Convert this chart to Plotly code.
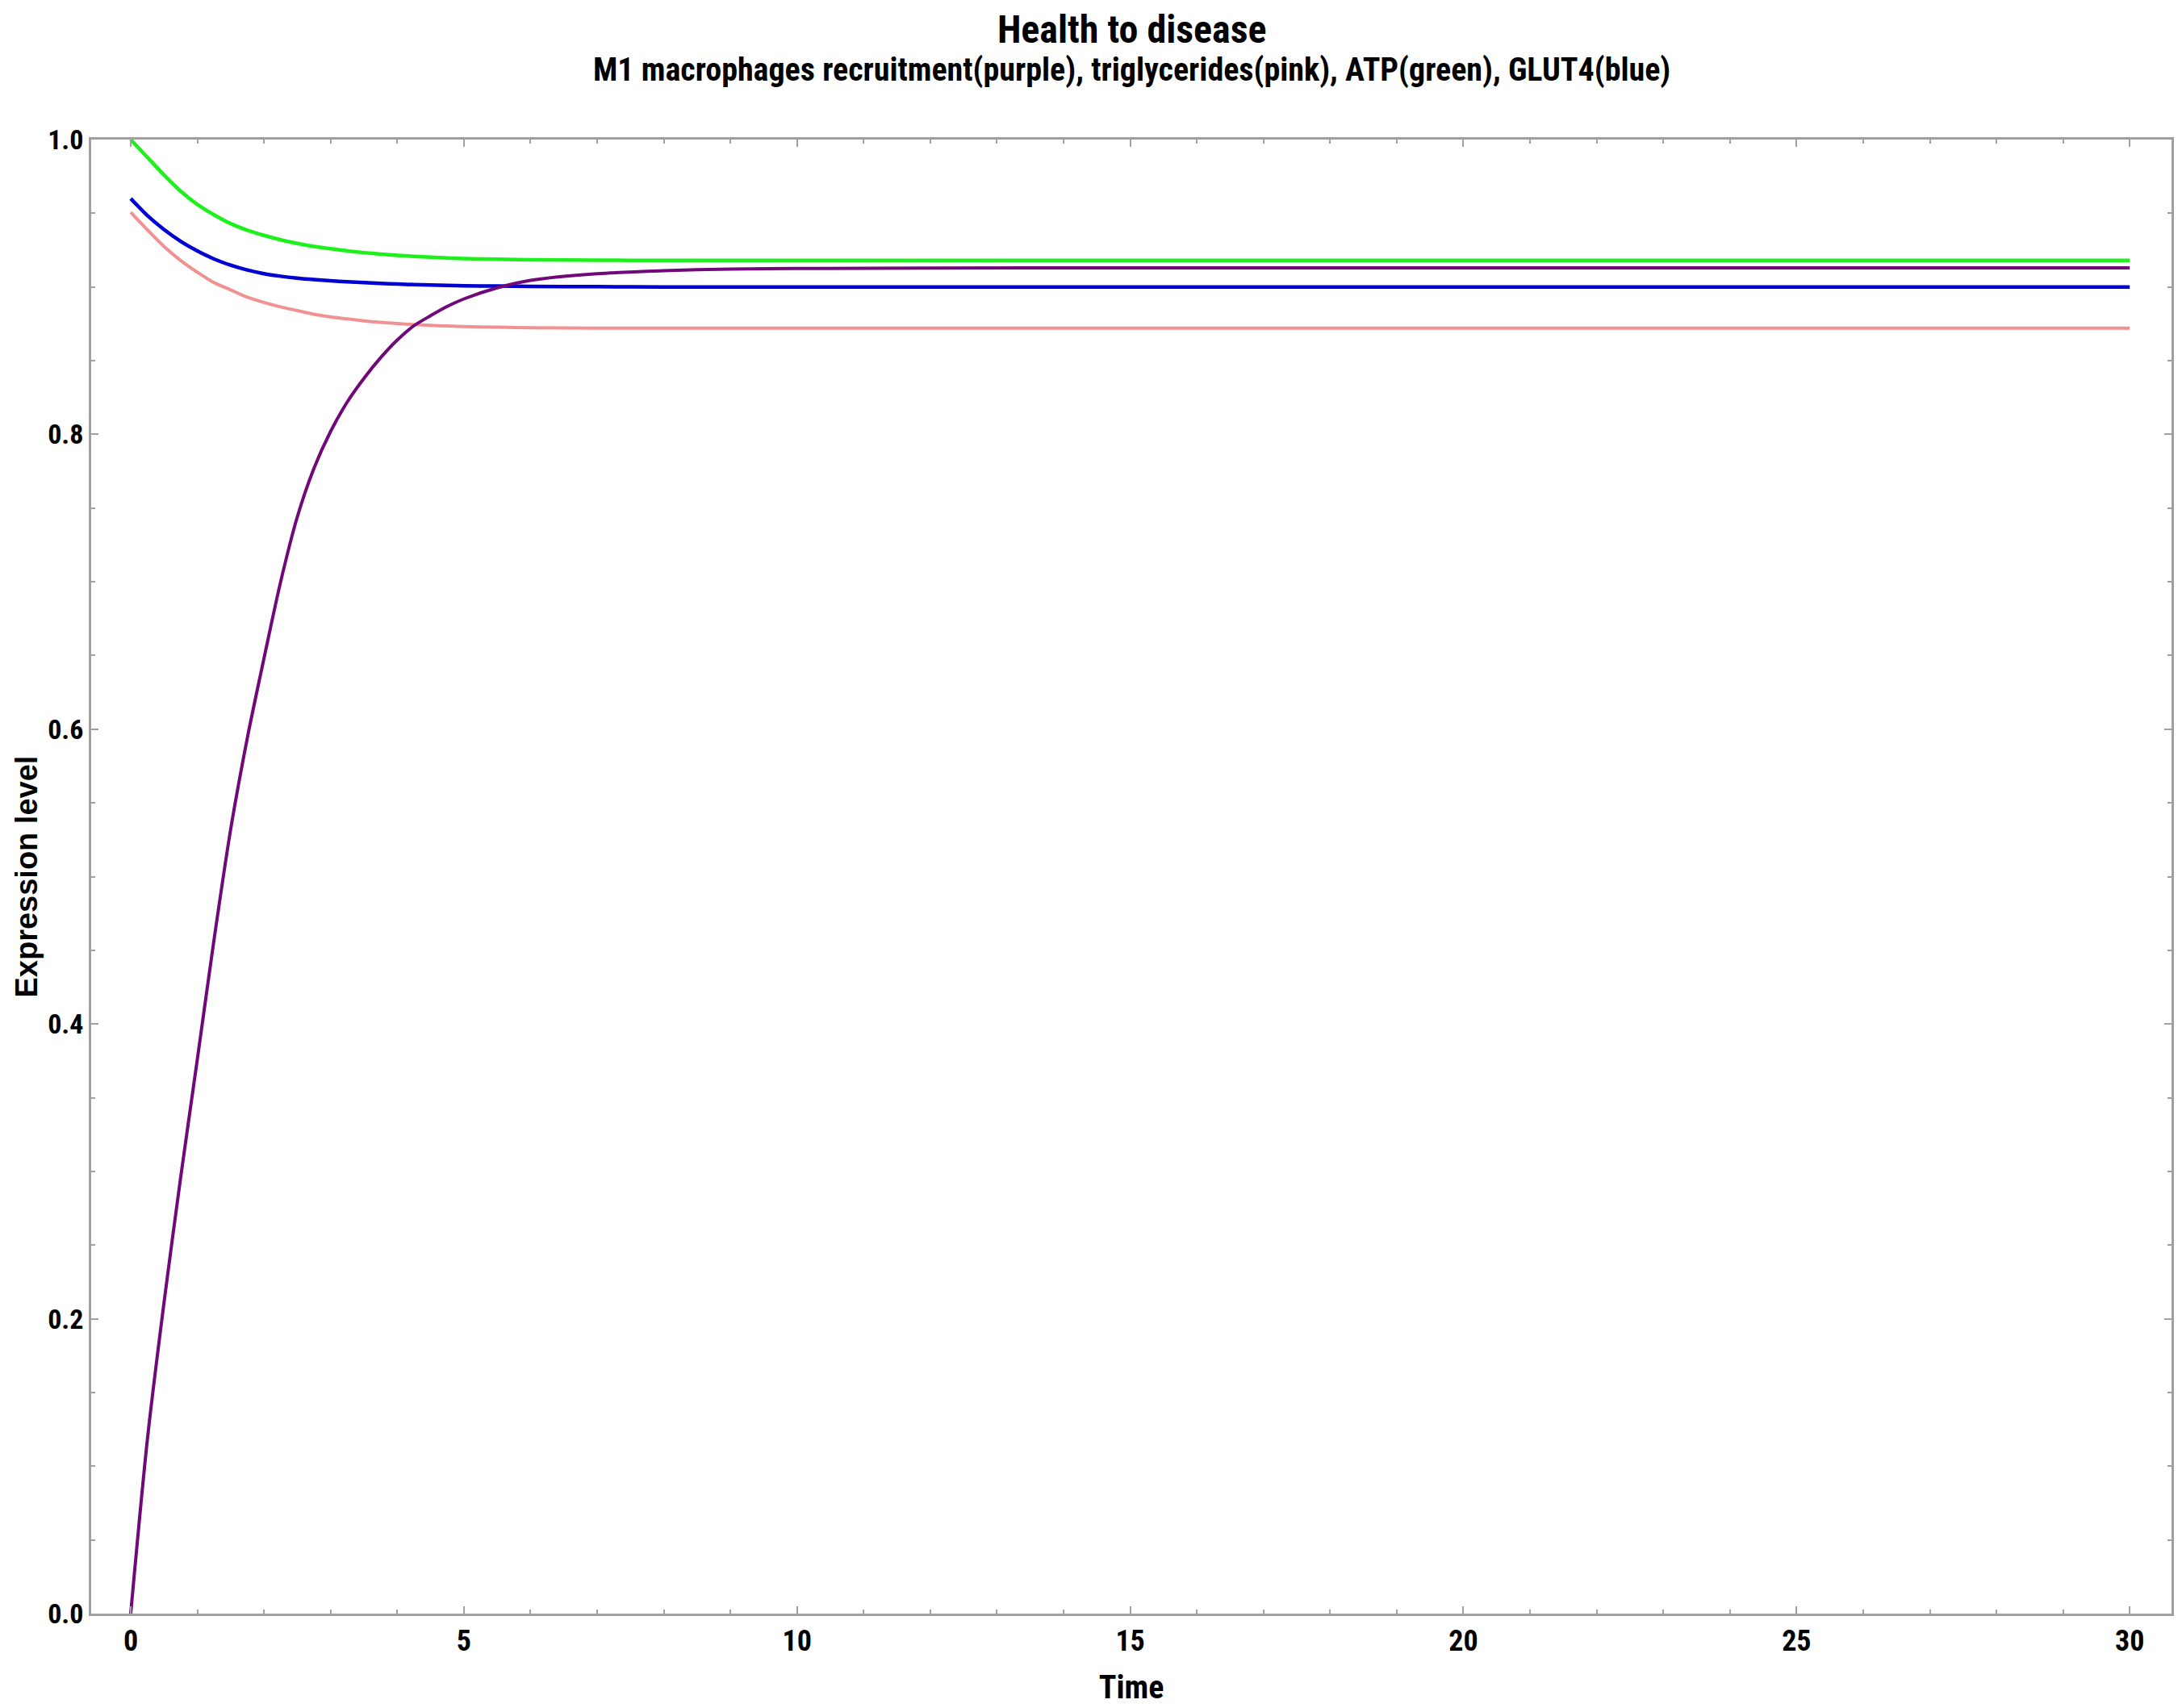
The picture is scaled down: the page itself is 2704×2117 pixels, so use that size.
import plotly.graph_objects as go

# Time points
time = [0, 0.25, 0.5, 0.75, 1.0, 1.25, 1.5, 1.75, 2.0, 2.25, 2.5, 2.75, 3.0, 3.25, 3.5, 3.75,
        4.0, 4.25, 4.5, 4.75, 5.0, 5.5, 6.0, 7.0, 8.0, 9.0, 10.0, 12.0, 15.0, 20.0, 25.0, 30.0]

# M1 macrophages recruitment (purple)
m1 = [0.0, 0.118, 0.211, 0.296, 0.376, 0.457, 0.532, 0.594, 0.648, 0.700, 0.744, 0.777, 0.802, 0.822, 0.838, 0.852,
      0.864, 0.8737, 0.8805, 0.8868, 0.8919, 0.8994, 0.9045, 0.909, 0.911, 0.9122, 0.9125, 0.9128, 0.913, 0.913, 0.913, 0.913]

# Triglycerides (pink)
tg = [0.9507, 0.9388, 0.9275, 0.918, 0.910, 0.903, 0.898, 0.893, 0.8895, 0.8865, 0.884, 0.8815, 0.8797, 0.8783, 0.877, 0.876,
      0.8752, 0.8745, 0.874, 0.8735, 0.8732, 0.8727, 0.8724, 0.8721, 0.872, 0.872, 0.872, 0.872, 0.872, 0.872, 0.872, 0.872]

# ATP (green)
atp = [1.0, 0.988, 0.976, 0.965, 0.956, 0.949, 0.943, 0.9385, 0.935, 0.932, 0.9295, 0.9275, 0.926, 0.9245, 0.9233, 0.9223,
       0.9215, 0.9208, 0.9202, 0.9197, 0.9193, 0.9188, 0.9185, 0.9182, 0.918, 0.918, 0.918, 0.918, 0.918, 0.918, 0.918, 0.918]

# GLUT4 (blue)
glut4 = [0.960, 0.9485, 0.939, 0.931, 0.9245, 0.919, 0.9148, 0.9115, 0.909, 0.9073, 0.906, 0.905, 0.9042, 0.9035, 0.903, 0.9024,
         0.902, 0.9016, 0.9013, 0.901, 0.9008, 0.9006, 0.9004, 0.9002, 0.900, 0.900, 0.900, 0.900, 0.900, 0.900, 0.900, 0.900]

title_text = "Health to disease"
subtitle_text = "M1 macrophages recruitment(purple), triglycerides(pink), ATP(green), GLUT4(blue)"
x_title = "Time"
y_title = "Expression level"

FONT = "Liberation Sans Narrow, Roboto Condensed, Liberation Sans, Arial, sans-serif"
WIDE_FONT = "Liberation Sans, Arial, sans-serif"
AXIS_COLOR = "rgb(160,160,160)"

fig = go.Figure()
series = [
    (atp, "rgb(30,240,30)", 4.5, "ATP"),
    (glut4, "rgb(0,0,210)", 4.5, "GLUT4"),
    (tg, "rgb(242,145,145)", 4, "triglycerides"),
    (m1, "rgb(112,8,122)", 4, "M1 macrophages"),
]
for ys, col, w, name in series:
    fig.add_trace(go.Scatter(x=time, y=ys, mode="lines", name=name,
                             line=dict(color=col, width=w, shape="spline", smoothing=0.8)))

heading = ("<span style='font-size:48px'><b>" + title_text + "</b></span><br>"
           "<span style='font-size:40px'><b>" + subtitle_text + "</b></span>")

fig.update_layout(
    width=2704, height=2117,
    margin=dict(l=105, r=21, t=165, b=125),
    paper_bgcolor="white", plot_bgcolor="white",
    showlegend=False,
    font=dict(family=FONT, color="black"),
    annotations=[
        dict(text=heading, xref="paper", yref="paper", x=0.5, y=1.0625,
             xanchor="center", yanchor="middle", showarrow=False, align="center", borderpad=0,
             font=dict(family=FONT, size=36, color="black")),
        dict(text="<b>" + y_title + "</b>", xref="paper", yref="paper", x=-0.0314, y=0.5,
             xanchor="center", yanchor="middle", showarrow=False, textangle=-90, borderpad=0,
             font=dict(family=WIDE_FONT, size=38, color="black")),
    ],
)

fig.update_xaxes(
    range=[-0.593, 30.627], tickmode="linear", tick0=0, dtick=5,
    ticks="inside", ticklen=9, tickwidth=2, tickcolor=AXIS_COLOR,
    minor=dict(dtick=1, tick0=0, ticks="inside", ticklen=5, tickwidth=1.5, tickcolor=AXIS_COLOR),
    showline=True, linecolor=AXIS_COLOR, linewidth=2.5, mirror="allticks",
    showgrid=False, zeroline=False,
    tickfont=dict(family=FONT, size=36, color="black"),
    tickprefix="<b>", ticksuffix="</b>",
    title=dict(text="<b>" + x_title + "</b>", font=dict(family=FONT, size=40, color="black"), standoff=24),
)
fig.update_yaxes(
    range=[0, 1], tickmode="linear", tick0=0, dtick=0.2, tickformat=".1f",
    ticks="inside", ticklen=9, tickwidth=2, tickcolor=AXIS_COLOR,
    minor=dict(dtick=0.05, tick0=0, ticks="inside", ticklen=5, tickwidth=1.5, tickcolor=AXIS_COLOR),
    showline=True, linecolor=AXIS_COLOR, linewidth=2.5, mirror="allticks",
    showgrid=False, zeroline=False,
    tickfont=dict(family=FONT, size=34, color="black"),
    tickprefix="<b>", ticksuffix="</b>",
)

fig.write_html("out.html")
